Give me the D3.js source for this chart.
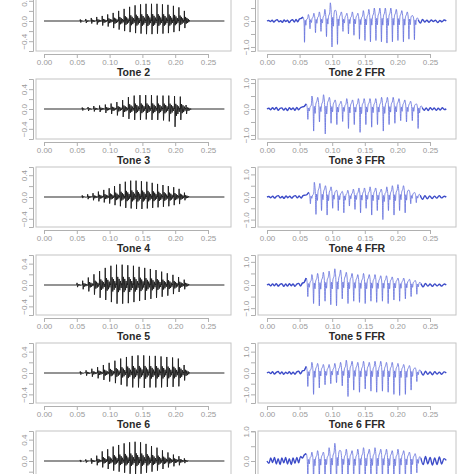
<!DOCTYPE html>
<html><head><meta charset="utf-8">
<script src="https://cdn.jsdelivr.net/npm/d3@7"></script>
<style>body{margin:0;background:#fff;} svg{display:block;font-family:"Liberation Sans",Arial,sans-serif;}</style>
</head><body><svg id="c" width="474" height="474"></svg>
<script>
// ---------- data ----------
const xTicks = [0, 0.05, 0.10, 0.15, 0.20, 0.25];
const stimYTicks = [-0.4, -0.2, 0, 0.2, 0.4];
const stimYLabels = [-0.4, 0, 0.4];
const ffrYTicks = [-1, -0.5, 0, 0.5, 1];
const ffrYLabels = [-1, 0, 1];
const stimTitles = ["Tone 1", "Tone 2", "Tone 3", "Tone 4", "Tone 5", "Tone 6"];
const ffrTitles = ["Tone 1 FFR", "Tone 2 FFR", "Tone 3 FFR", "Tone 4 FFR", "Tone 5 FFR", "Tone 6 FFR"];
const duration = 0.275;

const stimYLim = [[-0.55, 0.55], [-0.56, 0.56], [-0.51, 0.51], [-0.52, 0.52], [-0.52, 0.52], [-0.52, 0.52]];
const ffrYLim = [[-1.07, 1.07], [-1.07, 1.07], [-1.23, 1.23], [-1.2, 1.2], [-1.3, 1.3], [-0.94, 0.94]];

const stimOnset = [0.055, 0.058, 0.058, 0.05, 0.055, 0.055];
const stimOffset = [0.222, 0.225, 0.222, 0.222, 0.222, 0.222];

// peak (positive) and trough (negative) amplitude per pitch period
const s1Pos = [0.03,0.04,0.06,0.08,0.1,0.13,0.16,0.2,0.24,0.28,0.31,0.33,0.34,0.34,0.34,0.33,0.32,0.3,0.27,0.2];
const s1Neg = [-0.03,-0.04,-0.05,-0.07,-0.09,-0.11,-0.14,-0.17,-0.2,-0.22,-0.24,-0.25,-0.26,-0.26,-0.25,-0.25,-0.24,-0.22,-0.2,-0.14];
const s2Pos = [0.03,0.04,0.06,0.07,0.09,0.11,0.14,0.18,0.24,0.27,0.28,0.28,0.28,0.27,0.27,0.27,0.26,0.25,0.08];
const s2Neg = [-0.03,-0.04,-0.05,-0.06,-0.08,-0.1,-0.13,-0.16,-0.2,-0.22,-0.22,-0.21,-0.22,-0.22,-0.23,-0.25,-0.36,-0.22,-0.1];
const s3Pos = [0.03,0.05,0.07,0.1,0.13,0.16,0.2,0.24,0.28,0.3,0.3,0.29,0.28,0.26,0.24,0.22,0.2,0.18,0.15,0.08];
const s3Neg = [-0.02,-0.04,-0.06,-0.08,-0.1,-0.12,-0.15,-0.17,-0.2,-0.21,-0.22,-0.22,-0.21,-0.2,-0.19,-0.18,-0.17,-0.15,-0.13,-0.06];
const s4Pos = [0.04,0.08,0.14,0.2,0.26,0.32,0.36,0.38,0.38,0.37,0.36,0.34,0.32,0.3,0.28,0.25,0.22,0.19,0.15,0.1];
const s4Neg = [-0.04,-0.08,-0.12,-0.18,-0.24,-0.28,-0.32,-0.35,-0.35,-0.34,-0.32,-0.3,-0.28,-0.26,-0.24,-0.22,-0.2,-0.17,-0.13,-0.08];
const s5Pos = [0.03,0.05,0.08,0.11,0.15,0.19,0.23,0.27,0.3,0.32,0.33,0.33,0.32,0.32,0.31,0.3,0.29,0.27,0.15];
const s5Neg = [-0.03,-0.05,-0.07,-0.1,-0.13,-0.16,-0.19,-0.22,-0.25,-0.27,-0.27,-0.28,-0.27,-0.27,-0.27,-0.26,-0.26,-0.25,-0.14];
const s6Pos = [0.02,0.03,0.05,0.1,0.18,0.22,0.27,0.3,0.33,0.35,0.36,0.35,0.32,0.28,0.25,0.2,0.16,0.12,0.09,0.05];
const s6Neg = [-0.02,-0.03,-0.05,-0.08,-0.12,-0.15,-0.18,-0.2,-0.22,-0.24,-0.25,-0.24,-0.22,-0.2,-0.18,-0.15,-0.12,-0.1,-0.08,-0.04];
// shape of one pitch period: [phase, weight] (positive weight x peak, negative x trough)
const stimShape = [[0.04,1],[0.13,-1],[0.26,0.4],[0.38,-0.38],[0.5,0.3],[0.62,-0.28],[0.74,0.2],[0.86,-0.16],[0.94,0.08]];

const ffrOnset = [0.055, 0.06, 0.064, 0.06, 0.06, 0.06];
const ffrOffset = [0.232, 0.238, 0.235, 0.236, 0.236, 0.236];
const f1Pre = [0,0.02,-0.02,0.03,-0.04,0.02,0.05,-0.03,0.01,-0.05,0.04,-0.02,0.03,-0.06,0.02,0.05,-0.04,0.06,-0.03,0.08,0.1];
const f1Pk = [0.15,0.25,0.3,0.35,0.45,0.7,0.4,0.35,0.3,0.35,0.3,0.4,0.45,0.5,0.5,0.5,0.5,0.45,0.4,0.35,0.2];
const f1Tr = [-0.82,-0.3,-0.45,-0.4,-0.6,-1.0,-0.9,-0.4,-0.5,-0.55,-0.7,-0.75,-0.8,-0.75,-0.8,-0.85,-0.8,-0.75,-0.8,-0.7,-0.72];
const f1Post = [0.05,-0.08,0.06,-0.04,0.03,-0.05,0.04,-0.02,0.03,-0.06,0.02,-0.03,0.04,0];
const f2Pre = [0,0.03,-0.03,0.05,-0.02,0.06,-0.05,0.02,0.04,-0.04,0.03,-0.06,0.05,-0.02,0.04,-0.05,0.06,-0.03,0.05,0.08,0.1];
const f2Pk = [0.2,0.5,0.45,0.55,0.45,0.35,0.3,0.4,0.35,0.4,0.4,0.4,0.4,0.45,0.45,0.45,0.4,0.35,0.3,0.2];
const f2Tr = [-0.4,-0.85,-0.5,-0.96,-0.55,-0.6,-0.48,-0.75,-0.6,-0.9,-0.6,-0.7,-0.6,-0.85,-0.6,-0.55,-0.45,-0.5,-0.45,-0.75];
const f2Post = [0.06,-0.05,0.04,-0.06,0.05,-0.03,0.04,-0.05,0.03,-0.04,0.05,-0.02,0];
const f3Pre = [0,0.02,-0.03,0.04,-0.05,0.03,0.06,-0.04,0.02,-0.06,0.05,-0.03,0.04,-0.05,0.03,0.06,-0.04,0.05,-0.05,0.06,0.08,0.1];
const f3Pk = [0.2,0.65,0.6,0.5,0.45,0.3,0.25,0.3,0.35,0.4,0.4,0.45,0.4,0.35,0.45,0.5,0.55,0.5,0.3,0.2];
const f3Tr = [-0.3,-0.77,-0.6,-0.8,-0.5,-0.6,-0.7,-0.4,-0.55,-0.7,-0.5,-0.8,-0.6,-1.0,-0.6,-0.8,-0.6,-0.7,-0.3,-0.25];
const f3Post = [0.08,-0.1,0.06,-0.08,0.05,-0.07,0.04,-0.05,0.06,-0.04,0.03,0];
const f4Pre = [0,0.03,-0.04,0.05,-0.03,0.06,-0.05,0.03,0.05,-0.06,0.04,-0.05,0.06,-0.03,0.05,-0.06,0.04,0.07,-0.04,0.08,0.12];
const f4Pk = [0.3,0.45,0.5,0.55,0.6,0.7,0.65,0.55,0.5,0.45,0.5,0.45,0.45,0.4,0.4,0.35,0.3,0.3,0.25,0.2];
const f4Tr = [-0.5,-0.8,-0.9,-0.7,-0.85,-0.9,-0.6,-0.8,-0.7,-0.75,-0.8,-0.7,-0.75,-0.7,-0.8,-0.65,-0.7,-0.6,-0.5,-0.4];
const f4Post = [0.06,-0.08,0.07,-0.05,0.04,-0.06,0.05,-0.04,0.03,-0.05,0.04,0];
const f5Pre = [0,0.04,-0.03,0.06,-0.05,0.03,0.07,-0.04,0.05,-0.06,0.04,-0.03,0.06,-0.05,0.04,-0.06,0.05,0.08,-0.04,0.1,0.12];
const f5Pk = [0.3,0.5,0.45,0.4,0.4,0.45,0.5,0.6,0.55,0.5,0.55,0.5,0.55,0.55,0.5,0.5,0.45,0.4,0.35,0.25];
const f5Tr = [-0.63,-1.0,-0.7,-0.55,-0.5,-0.45,-0.6,-1.1,-0.8,-0.9,-0.75,-0.85,-0.9,-0.85,-0.9,-1.0,-1.05,-1.0,-0.8,-0.4];
const f5Post = [0.08,-0.1,0.08,-0.06,0.05,-0.08,0.06,-0.05,0.04,-0.06,0.05,0];
const f6Pre = [0,-0.08,0.1,-0.05,0.12,-0.1,0.08,-0.12,0.1,-0.06,0.12,-0.1,0.08,-0.12,0.1,-0.08,0.12,-0.06,0.15,0.1,0.2];
const f6Pk = [0.25,0.3,0.35,0.3,0.45,0.6,0.35,0.4,0.35,0.4,0.45,0.4,0.45,0.4,0.4,0.35,0.4,0.35,0.3,0.25];
const f6Tr = [-0.5,-0.8,-0.7,-0.6,-0.7,-0.8,-0.6,-0.7,-0.75,-0.7,-0.8,-0.75,-0.8,-0.7,-0.75,-0.8,-0.7,-0.65,-0.6,-0.4];
const f6Post = [0.1,-0.12,0.15,-0.1,0.12,-0.14,0.1,-0.12,0.14,-0.1,0.08,0.02];
// shape of one FFR period: [phase, weight]
const ffrShape = [[0,1],[0.15,0.55],[0.3,-1],[0.42,0.2],[0.55,-0.2],[0.7,0.45],[0.85,0.6]];

const stimPos = [s1Pos, s2Pos, s3Pos, s4Pos, s5Pos, s6Pos];
const stimNeg = [s1Neg, s2Neg, s3Neg, s4Neg, s5Neg, s6Neg];
const ffrPre = [f1Pre, f2Pre, f3Pre, f4Pre, f5Pre, f6Pre];
const ffrPk = [f1Pk, f2Pk, f3Pk, f4Pk, f5Pk, f6Pk];
const ffrTr = [f1Tr, f2Tr, f3Tr, f4Tr, f5Tr, f6Tr];
const ffrPost = [f1Post, f2Post, f3Post, f4Post, f5Post, f6Post];

// ---------- layout ----------
const W = 474, H = 474;
const svg = d3.select("#c");
const pitch = 88, firstTop = -9, boxH = 60;
const cols = [
  {box: [36, 231], range: [44, 208]},
  {box: [258, 456], range: [267, 430]}
];

function stimPoints(k) {
  const on = stimOnset[k], off = stimOffset[k], pos = stimPos[k], neg = stimNeg[k];
  const n = pos.length, per = (off - on) / n;
  const pts = [[0, 0], [on, 0]];
  for (let i = 0; i < n; i++) {
    for (const [ph, w] of stimShape) pts.push([on + (i + ph) * per, w >= 0 ? w * pos[i] : -w * neg[i]]);
    pts.push([on + (i + 1) * per, 0]);
  }
  pts.push([duration, 0]);
  return pts;
}
function ffrParts(k) {
  const on = ffrOnset[k], off = ffrOffset[k];
  const pre = ffrPre[k], pk = ffrPk[k], tr = ffrTr[k], post = ffrPost[k];
  const a = pre.map((v, i) => [on * i / pre.length, v]);
  const b = [];
  const n = pk.length, per = (off - on) / n;
  for (let i = 0; i < n; i++) {
    for (const [ph, w] of ffrShape) b.push([on + (i + ph) * per, w >= 0 ? w * pk[i] : -w * tr[i]]);
  }
  const c = post.map((v, i) => [off + (duration - off) * i / (post.length - 1), v]);
  return [a, b, c];
}

function panel(k, c) {
  const col = cols[c];
  const top = firstTop + pitch * k, bot = top + boxH;
  const lim = c === 0 ? stimYLim[k] : ffrYLim[k];
  const pad = (lim[1] - lim[0]) * 0.04;
  const x = d3.scaleLinear().domain([0, 0.25]).range(col.range);
  const y = d3.scaleLinear().domain([lim[0] - pad, lim[1] + pad]).range([bot, top]);
  const g = svg.append("g");
  // title (the first row's title lies above the picture)
  if (top - 12 > 0) {
    g.append("text").attr("x", (col.box[0] + col.box[1]) / 2).attr("y", top - 3)
      .attr("text-anchor", "middle").attr("font-size", 10.5).attr("font-weight", "bold")
      .attr("fill", "#2a2a2a").text(c === 0 ? stimTitles[k] : ffrTitles[k]);
  }
  // box
  g.append("rect").attr("x", col.box[0]).attr("y", top).attr("width", col.box[1] - col.box[0])
    .attr("height", boxH).attr("fill", "none").attr("stroke", "#c4c4c4").attr("stroke-width", 1);
  // x axis (only if it lies inside the picture)
  const axes = [];
  if (bot + 3 < H) {
    const xa = g.append("g").attr("transform", `translate(0,${bot + 3})`)
      .call(d3.axisBottom(x).tickValues(xTicks).tickFormat(d3.format(".2f")).tickSize(4));
    xa.selectAll("text").attr("y", 10.5).attr("dy", 0);
    axes.push(xa);
  }
  // y axis
  const yt = c === 0 ? stimYTicks : ffrYTicks, yl = c === 0 ? stimYLabels : ffrYLabels;
  const ya = g.append("g").attr("transform", `translate(${col.box[0] - 3},0)`)
    .call(d3.axisLeft(y).tickValues(yt).tickSize(4)
      .tickFormat(d => yl.some(v => Math.abs(v - d) < 1e-9) && y(d) > -4 && y(d) < H + 4 ? d3.format(".1f")(d) : ""));
  ya.selectAll("text").attr("transform", "rotate(-90)").attr("x", 0).attr("y", -6.5)
    .attr("dy", 0).attr("text-anchor", "middle");
  axes.push(ya);
  axes.forEach(a => {
    a.select(".domain").attr("stroke", "#b0b0b0");
    a.selectAll(".tick line").attr("stroke", "#b0b0b0");
    a.selectAll("text").attr("fill", "#9a9a9a").attr("font-size", 8)
      .attr("font-family", "'Liberation Sans',Arial,sans-serif");
  });
  ya.selectAll("text").filter(function () { return this.textContent === ""; }).remove();
  // waveform
  const line = d3.line().x(d => x(d[0])).y(d => y(d[1]));
  if (c === 0) {
    g.append("path").attr("d", line(stimPoints(k))).attr("fill", "none").attr("stroke", "#1e1e1e")
      .attr("stroke-width", 0.95);
  } else {
    const [a, b, cc] = ffrParts(k);
    const cl = line.curve(d3.curveCatmullRom);
    g.append("path").attr("d", cl([a[a.length - 1], ...b, cc[0]])).attr("fill", "none")
      .attr("stroke", "#5e6bda").attr("stroke-width", 0.8);
    g.append("path").attr("d", cl(a.concat([b[0]]))).attr("fill", "none")
      .attr("stroke", "#3c4bc8").attr("stroke-width", 1.4);
    g.append("path").attr("d", cl(cc)).attr("fill", "none")
      .attr("stroke", "#3c4bc8").attr("stroke-width", 1.4);
  }
}
for (let k = 0; k < 6; k++) { panel(k, 0); panel(k, 1); }
</script></body></html>
